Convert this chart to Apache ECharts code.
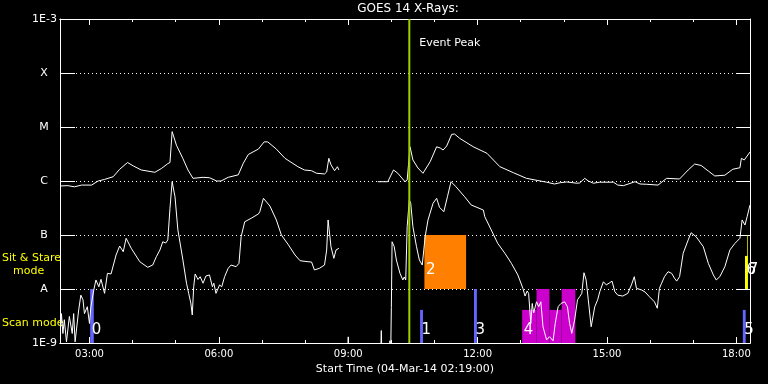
<!DOCTYPE html>
<html><head><meta charset="utf-8">
<script src="https://cdn.jsdelivr.net/npm/echarts@6/dist/echarts.min.js"></script>
<style>html,body{margin:0;padding:0;background:#000}#c{width:768px;height:384px}</style>
</head><body><div id="c"></div>
<script>
const titleText = 'GOES 14 X-Rays:';
const xAxisTitle = 'Start Time (04-Mar-14 02:19:00)';
const startTime = '02:19';
const endTime = '18:19';
const tickHours = [3,4,5,6,7,8,9,10,11,12,13,14,15,16,17,18];
const labelHours = [3,6,9,12,15,18];
const yLevels = ['1E-9','A','B','C','M','X','1E-3'];
const sideLabels = ['Sit & Stare', 'mode', 'Scan mode'];

const longTimes = ['02:20','02:30','02:39','02:49','03:03','03:12','03:21','03:33','03:42','03:53','04:01','04:12','04:31','04:40','04:49','04:52','04:55','05:01','05:10','05:17','05:24','05:38','05:47','05:57','06:03','06:13','06:27','06:34','06:41','06:55','07:03','07:08','07:20','07:32','07:50','07:59','08:09','08:16','08:27','08:30','08:33','08:36','08:41','08:45','08:47','09:00',
'09:41','09:55','10:03','10:09','10:19','10:22','10:26','10:30','10:37','10:44','10:54','11:03','11:08','11:12','11:17','11:24','11:28','11:35','11:54','12:13','12:31','12:50','13:08','13:36','13:47','13:55','14:04','14:18','14:22','14:29','14:34','14:41','14:50','15:09','15:15','15:23','15:39','15:46','15:55','16:11','16:23','16:41','16:53','17:02','17:11','17:21','17:30','17:44','17:55','18:05','18:07','18:11','18:19'];
const longFlux = [8.1e-7,8.2e-7,7.8e-7,8.4e-7,8.4e-7,1.0e-6,1.07e-6,1.2e-6,1.65e-6,2.2e-6,1.9e-6,1.6e-6,1.45e-6,1.7e-6,2.1e-6,2.2e-6,8.2e-6,4.6e-6,2.6e-6,1.6e-6,1.12e-6,1.17e-6,1.15e-6,1.0e-6,1.0e-6,1.17e-6,1.3e-6,2.13e-6,3.1e-6,3.9e-6,5.3e-6,5.3e-6,3.9e-6,2.63e-6,1.84e-6,1.6e-6,1.55e-6,1.39e-6,1.35e-6,1.47e-6,2.63e-6,2.0e-6,1.55e-6,1.84e-6,1.6e-6,null,
9.7e-7,9.7e-7,1.6e-6,1.39e-6,9.7e-7,1.04e-6,4.3e-6,2.45e-6,1.74e-6,1.39e-6,2.28e-6,4.3e-6,4.08e-6,3.75e-6,4.45e-6,7.33e-6,7.4e-6,6.18e-6,4.3e-6,3.26e-6,1.84e-6,1.42e-6,1.12e-6,9.5e-7,8.8e-7,9.3e-7,9.6e-7,9.1e-7,9.2e-7,1.12e-6,1.0e-6,9.1e-7,9.5e-7,9.5e-7,8.4e-7,8.2e-7,9.7e-7,8.8e-7,8.7e-7,8.4e-7,1.12e-6,1.09e-6,1.6e-6,2.06e-6,1.94e-6,1.53e-6,1.24e-6,1.28e-6,1.65e-6,1.76e-6,2.63e-6,2.45e-6,3.44e-6];

const shortTimes = ['02:20','02:21','02:23','02:25','02:28','02:32','02:36','02:38','02:40','02:45','02:48','02:51','02:53','02:57','03:00','03:02','03:06','03:09','03:13','03:16','03:21','03:25','03:30','03:37','03:42','03:47','03:51','03:58','04:10','04:21','04:28','04:33','04:38','04:42','04:46','04:49','04:52','04:55','04:59','05:03','05:10','05:15','05:18','05:21','05:23','05:25','05:27','05:31','05:34','05:38','05:42','05:47','05:51','05:53','05:56','06:01','06:04','06:08','06:13','06:17','06:24','06:28','06:31','06:36','06:45','06:55','06:57','07:02','07:11','07:20','07:27','07:36','07:46','07:53','08:04','08:09','08:13','08:20','08:27','08:30','08:32','08:36','08:40','08:43','08:47','08:50',
'08:59','09:00','09:01','09:45','09:46','09:47','09:57','09:58','09:59','10:00','10:01','10:04','10:07','10:12','10:16','10:18','10:20','10:22','10:25','10:27','10:30','10:35','10:39','10:43','10:47','10:51','10:58','11:03','11:07','11:13','11:18','11:23','11:30','11:42','11:51','12:08','12:10','12:19','12:28','12:38','12:47','12:56','13:03','13:06','13:09','13:11','13:14','13:16','13:18','13:22','13:25','13:28','13:31','13:36','13:40','13:45','13:48','13:52','13:56','14:01','14:05','14:08','14:11','14:15','14:19','14:22','14:25','14:28','14:31','14:34','14:38','14:43','14:47','14:50','14:55','14:59','15:04','15:07','15:11','15:15','15:22','15:29','15:34','15:38','15:41','15:48','15:53','15:59','16:06','16:10','16:13','16:16','16:20','16:25','16:30','16:34','16:37','16:41','16:46','16:53','16:57','17:04','17:14','17:21','17:28','17:32','17:37','17:44','17:51','17:58','18:05','18:08','18:12','18:15','18:19'];
const shortFlux = [2.0e-9,3.5e-9,1.5e-9,2.7e-9,1.05e-9,3.1e-9,1.5e-9,3.5e-9,1.05e-9,4.1e-9,7.7e-9,6.3e-9,3.5e-9,4.7e-9,2.3e-9,4.7e-9,9.6e-9,1.47e-8,1.1e-8,1.51e-8,8.3e-9,1.95e-8,1.9e-8,4.26e-8,6.25e-8,4.9e-8,8.7e-8,5.7e-8,3.2e-8,2.52e-8,2.78e-8,3.96e-8,5.27e-8,7.5e-8,7.1e-8,8.1e-8,3.12e-7,9.7e-7,5.1e-7,1.24e-7,3.44e-8,1.28e-8,8.3e-9,5.5e-9,3.3e-9,1.1e-8,1.9e-8,1.5e-8,1.69e-8,1.28e-8,1.74e-8,1.82e-8,1.1e-8,1.28e-8,8.3e-9,1.19e-8,1.1e-8,1.69e-8,2.42e-8,2.78e-8,2.59e-8,2.99e-8,9.3e-8,1.76e-7,2.04e-7,2.45e-7,2.7e-7,4.78e-7,3.44e-7,1.9e-7,1.0e-7,6.8e-8,4.26e-8,3.34e-8,3.2e-8,3.16e-8,2.25e-8,2.42e-8,2.78e-8,5.27e-8,1.9e-7,6.07e-8,3.7e-8,5.27e-8,5.67e-8,null,
5e-10,1.3e-9,5e-10,5e-10,1.7e-9,5e-10,5e-10,1.1e-9,5e-10,4.5e-9,7.5e-8,6.07e-8,3.44e-8,1.95e-8,1.47e-8,1.67e-8,1.47e-8,1.42e-7,4.45e-7,3.86e-7,1.42e-7,6.07e-8,3.44e-8,2.78e-8,9.3e-8,1.9e-7,3.86e-7,4.78e-7,3.26e-7,2.7e-7,5.1e-7,9.7e-7,7.8e-7,5.1e-7,3.6e-7,2.9e-7,2.18e-7,1.24e-7,7.0e-8,4.58e-8,2.99e-8,1.82e-8,1.03e-8,7.4e-9,9.2e-9,8.3e-9,2.3e-9,5.4e-9,3.6e-9,5.8e-9,4.7e-9,5.8e-9,2.0e-9,1.14e-9,1.31e-9,1.1e-9,2.3e-9,4.7e-9,5.4e-9,5.8e-9,4.7e-9,2.3e-9,1.51e-9,2.67e-9,6.3e-9,7.2e-9,8.3e-9,2.0e-8,1.47e-8,6.3e-9,2.0e-9,4.7e-9,6.3e-9,8.9e-9,1.36e-8,1.19e-8,1.31e-8,1.4e-8,8.9e-9,7.7e-9,7.4e-9,8.3e-9,1.19e-8,1.69e-8,1.03e-8,9.6e-9,8.8e-9,7.2e-9,5.8e-9,4.4e-9,1.03e-8,1.28e-8,1.69e-8,2.09e-8,1.95e-8,1.58e-8,1.4e-8,1.69e-8,4.58e-8,8.1e-8,1.1e-7,9.3e-8,6.07e-8,2.99e-8,1.82e-8,1.47e-8,1.69e-8,2.59e-8,5.27e-8,7.0e-8,8.7e-8,1.9e-7,1.53e-7,2.18e-7,3.6e-7];

const eventTime = '10:25';
const eventLabel = 'Event Peak';

const modeLabels = ['0','1','2','3','4','','','','5','6','7'];
const modeStart = ['03:01','10:40','10:46','11:55','13:02','13:22','13:40','13:57','18:09','18:12','18:15'];
const modeEnd   = ['03:06','10:44','11:44','11:59','13:22','13:40','13:57','14:16','18:13','18:16','18:16'];
const modeLow   = [1e-9,1e-9,1e-8,1e-9,1e-9,1e-9,1e-9,1e-9,1e-9,1e-8,1e-8];
const modeHigh  = [1e-8,4.1e-9,1e-7,1e-8,4.1e-9,1e-8,4.1e-9,1e-8,4.1e-9,4.1e-8,1e-7];
const modeKind  = ['scan','scan','stare','scan','multi','multi','multi','multi','scan','stare2','stare2'];

// ---- styles ----
const FONT = '"DejaVu Sans"';
const kindColor = {scan:'#6464ff', multi:'#cc00cc', stare:'#ff8000', stare2:'#ffff00'};
const kindLabelOffset = {scan:5, multi:5, stare:11, stare2:11};

function toH(s){ const p = s.split(':').map(Number); return p[0] + p[1]/60; }
const H0 = toH(startTime), H1 = toH(endTime);
const pad = n => (n < 10 ? '0' : '') + n;

const longData = longTimes.map((t,i) => [toH(t), longFlux[i] === null ? '-' : longFlux[i]]);
const shortData = shortTimes.map((t,i) => [toH(t), shortFlux[i] === null ? '-' : shortFlux[i]]);
const modeData = modeStart.map((s,i) => [toH(s), toH(modeEnd[i]), modeLow[i], modeHigh[i], i]);

const chart = echarts.init(document.getElementById('c'), null, {renderer:'canvas'});

function xAxisDef(pos, len, ticks, withLabels) {
  const a = {
    type:'value', position:pos, min:H0, max:H1,
    axisLine:{show:true, onZero:false, lineStyle:{color:'#fff', width:1}},
    axisTick:{show:true, inside:true, length:len, customValues:ticks, lineStyle:{color:'#fff', width:1}},
    axisLabel:{show:false},
    splitLine:{show:false}
  };
  if (withLabels) {
    a.axisLabel = {show:true, customValues:labelHours, color:'#fff', fontSize:10, fontFamily:FONT, margin:6,
      formatter: v => pad(Math.round(v)) + ':00'};
    a.name = xAxisTitle; a.nameLocation = 'middle'; a.nameGap = 19;
    a.nameTextStyle = {color:'#fff', fontSize:11, fontFamily:FONT};
  }
  return a;
}

const option = {
  backgroundColor:'#000',
  animation:false,
  title:{text:titleText, left:408, top:3, textAlign:'center', padding:0,
    textStyle:{color:'#fff', fontSize:12, fontWeight:'normal', fontFamily:FONT}},
  grid:{left:60, right:18, top:19, bottom:41, containLabel:false},
  xAxis:[
    xAxisDef('bottom', 3, tickHours, false),
    xAxisDef('bottom', 6, labelHours, true),
    xAxisDef('top', 3, tickHours, false),
    xAxisDef('top', 6, labelHours, false)
  ],
  yAxis:[
    {type:'log', logBase:10, min:1e-9, max:1e-3, splitNumber:6, position:'left',
     axisLine:{show:true, onZero:false, lineStyle:{color:'#fff'}},
     axisTick:{show:true, inside:true, length:15, lineStyle:{color:'#fff'}},
     axisLabel:{color:'#fff', fontSize:11, fontFamily:FONT, margin:3,
       formatter: v => { const s = yLevels[Math.round(Math.log10(v)) + 9] || ''; return /^\d/.test(s) ? '{n|' + s + '}' : '{c|' + s + '}'; },
       rich:{n:{color:'#fff', fontSize:11, fontFamily:FONT}, c:{color:'#fff', fontSize:11, fontFamily:FONT, width:26, align:'center'}}},
     splitLine:{show:true, lineStyle:{color:'#fff', width:1, type:[1,3]}}},
    {type:'log', logBase:10, min:1e-9, max:1e-3, splitNumber:6, position:'right',
     axisLine:{show:true, onZero:false, lineStyle:{color:'#fff'}},
     axisTick:{show:true, inside:true, length:14, lineStyle:{color:'#fff'}},
     axisLabel:{show:false}, splitLine:{show:false}}
  ],
  graphic:[
    {type:'text', x:2, y:258, style:{text:sideLabels[0], fill:'#ffff00', font:'11px ' + FONT, verticalAlign:'middle'}},
    {type:'text', x:13, y:271, style:{text:sideLabels[1], fill:'#ffff00', font:'11px ' + FONT, verticalAlign:'middle'}},
    {type:'text', x:2, y:323.5, style:{text:sideLabels[2], fill:'#ffff00', font:'11px ' + FONT, verticalAlign:'middle'}}
  ],
  series:[
    {type:'custom', name:'modes', xAxisIndex:0, yAxisIndex:0, z:2,
     data:modeData, encode:{x:[0,1], y:[2,3]},
     renderItem:(params, api) => {
       const i = api.value(4);
       const p0 = api.coord([api.value(0), api.value(3)]);
       const p1 = api.coord([api.value(1), api.value(2)]);
       const kind = modeKind[i];
       const children = [{type:'rect', shape:{x:p0[0], y:p0[1], width:p1[0]-p0[0], height:p1[1]-p0[1]}, style:{fill:kindColor[kind]}}];
       if (modeLabels[i]) {
         children.push({type:'text', z2:10, style:{text:modeLabels[i], x:p0[0] + 1.5, y:p1[1] - kindLabelOffset[kind], fill:'#fff', font:'15px ' + FONT, verticalAlign:'bottom'}});
       }
       return {type:'group', children};
     }},
    {type:'line', name:'long', data:longData, showSymbol:false, symbol:'none', connectNulls:false, z:3,
     lineStyle:{color:'#fff', width:1}, clip:true},
    {type:'line', name:'short', data:shortData, showSymbol:false, symbol:'none', connectNulls:false, z:3,
     lineStyle:{color:'#fff', width:1}, clip:true},
    {type:'custom', name:'event', z:5, data:[[toH(eventTime)]], encode:{x:0},
     renderItem:(params, api) => {
       const top = api.coord([api.value(0), 1e-3]);
       const bot = api.coord([api.value(0), 1e-9]);
       return {type:'group', children:[
         {type:'line', shape:{x1:top[0], y1:top[1], x2:bot[0], y2:bot[1]}, style:{stroke:'#9cd000', lineWidth:2}},
         {type:'text', style:{text:eventLabel, x:top[0] + 10, y:top[1] + 24, fill:'#fff', font:'11px ' + FONT, verticalAlign:'middle'}}
       ]};
     }}
  ]
};
chart.setOption(option);
</script></body></html>
